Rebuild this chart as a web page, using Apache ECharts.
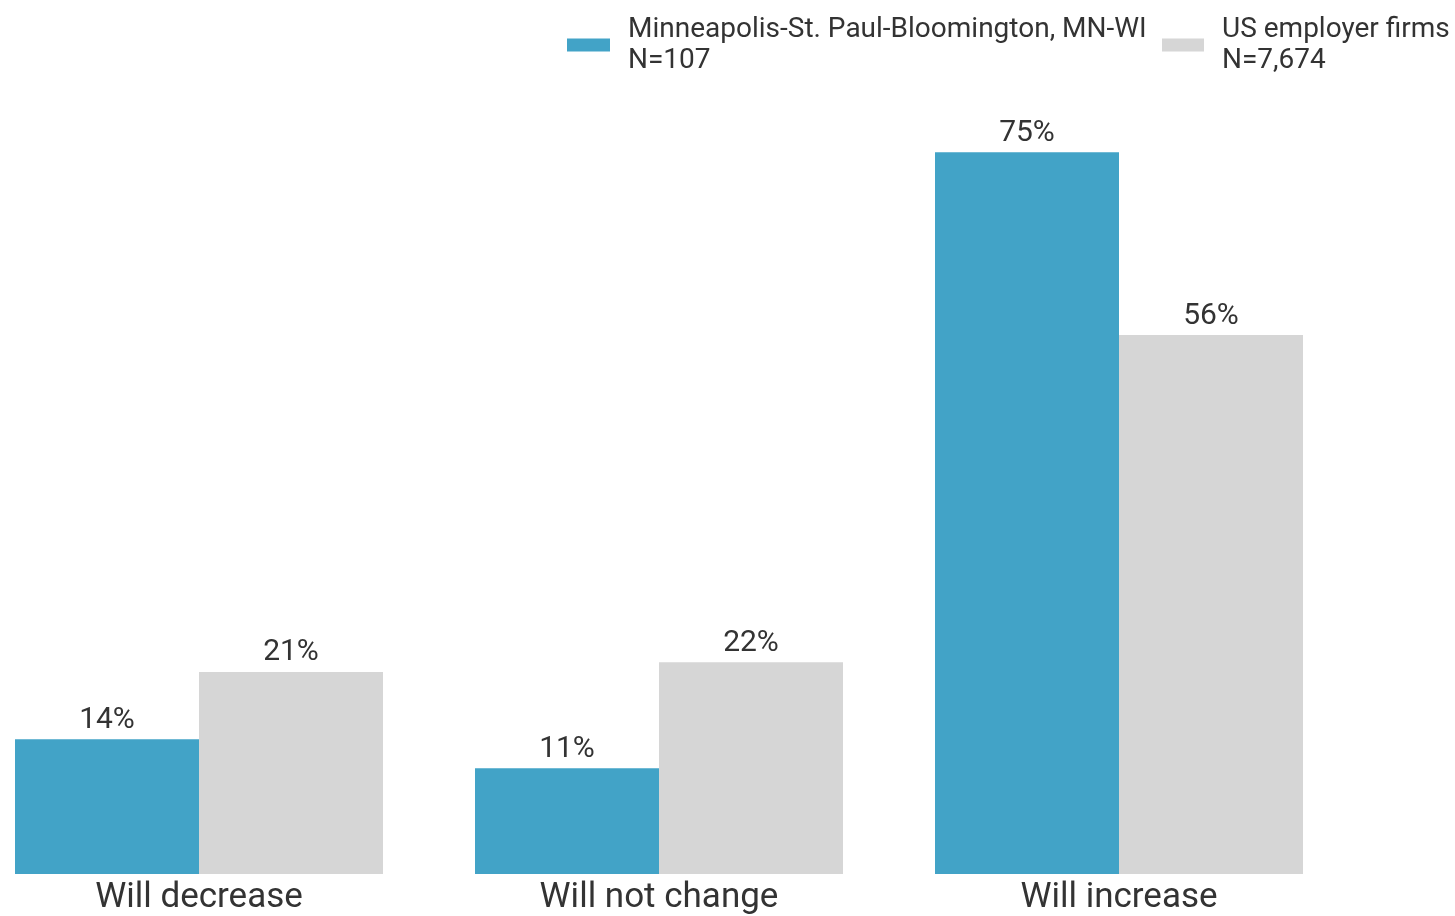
<!DOCTYPE html>
<html>
<head>
<meta charset="utf-8">
<script src="https://cdn.jsdelivr.net/npm/echarts@6/dist/echarts.min.js"></script>
<style>
html,body{margin:0;padding:0;background:#fff;overflow:hidden;}
#chart{position:absolute;left:-31px;top:0;width:1486px;height:916px;}
</style>
</head>
<body>
<div id="chart"></div>
<script>
const categories = ["Will decrease", "Will not change", "Will increase"];
const seriesNames = ["Minneapolis-St. Paul-Bloomington, MN-WI\nN=107", "US employer firms\nN=7,674"];
const metroValues = [14, 11, 75];
const usValues = [21, 22, 56];
const colors = ["#42a3c7", "#d6d6d6"];

const chart = echarts.init(document.getElementById('chart'));
const textColor = '#333333';
const font = 'Roboto';
const labelCfg = {
  show: true, position: 'top', distance: 4,
  formatter: '{c}%', fontFamily: font, fontSize: 30, color: textColor
};
const legendText = { fontFamily: font, fontSize: 28, color: textColor, lineHeight: 31, padding: [0,0,16,13] };
chart.setOption({
  animation: false,
  textStyle: { fontFamily: font },
  legend: [
    { data: [seriesNames[0]], left: 562 + 31, top: 1, itemWidth: 43, itemHeight: 13,
      icon: 'rect', selectedMode: false, textStyle: legendText },
    { data: [seriesNames[1]], left: 1157 + 31, top: 1, itemWidth: 42, itemHeight: 13,
      icon: 'rect', selectedMode: false, textStyle: legendText }
  ],
  grid: { left: 0, right: 106, top: 104, bottom: 41, containLabel: false },
  xAxis: {
    type: 'category', data: categories,
    axisLine: { show: false }, axisTick: { show: false },
    axisLabel: { fontFamily: font, fontSize: 35, color: textColor, margin: 7 }
  },
  yAxis: {
    type: 'value', min: 0, max: 80, show: false, splitLine: { show: false }
  },
  series: [
    { name: seriesNames[0], type: 'bar', data: metroValues, barGap: '0%', barCategoryGap: '20%',
      itemStyle: { color: colors[0] }, label: labelCfg },
    { name: seriesNames[1], type: 'bar', data: usValues, barGap: '0%', barCategoryGap: '20%',
      itemStyle: { color: colors[1] }, label: labelCfg }
  ]
});
</script>
</body>
</html>
